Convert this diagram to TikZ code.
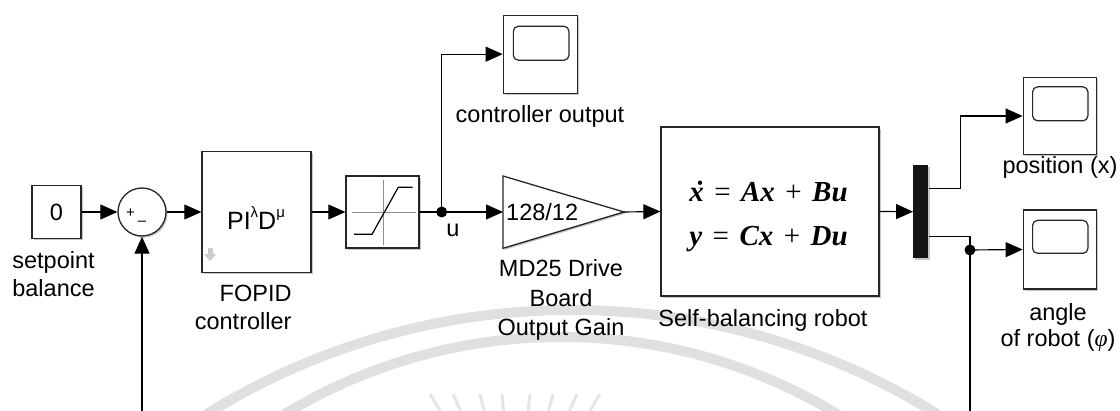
\documentclass[tikz,border=0pt]{standalone}
\usepackage{fontspec}
\setmainfont{Liberation Sans}
\newfontfamily\eqfont{Liberation Serif}
\usetikzlibrary{arrows.meta,shadows,calc}
\newcommand\bfit[1]{\textbf{\textit{#1}}}
\newcommand\xdotsym{\bfit{x}\llap{\bfit{˙}\kern0.02em}}
\newcommand\eqgap{\hspace{0.36em}}
\tikzset{
  shd/.style={drop shadow={shadow xshift=1.6pt, shadow yshift=-1.6pt, opacity=0.22, fill=black}},
  blk/.style={draw=black!85, line width=1.3pt, fill=white, inner sep=0pt, shd},
  sig/.style={line width=1.15pt, -{Triangle[length=17pt,width=15pt]}},
  wire/.style={line width=1.15pt},
  lbl/.style={font=\fontsize{23.5}{28.5}\selectfont, align=center, inner sep=0pt},
  dotnode/.style={circle, fill=black, inner sep=0pt, minimum size=11pt},
  innerscope/.style={draw=black!85, line width=1.2pt, rounded corners=5pt},
  wm/.style={line width=10pt, draw=black!12},
  ray/.style={line width=3pt, draw=black!10},
}
\begin{document}
\begin{tikzpicture}[x=1pt,y=-1pt]
\useasboundingbox (0,0) rectangle (1120,411);
% watermark
\begin{scope}
\clip (0,0) rectangle (1120,411);
\draw[wm] (572,1002) circle[radius=692];
\draw[wm] (561,870) circle[radius=533];
\foreach \xx in {430,453,480,502,530,553,577,600}{
  \draw[ray] (\xx,394) -- ({\xx-(\xx-515)*0.15},415);
}
\end{scope}

% blocks
\node[blk, lbl, minimum width=49pt, minimum height=53pt] (c0) at (56.5,212) {0};
\node[blk, circle, minimum size=48pt] (sum) at (142,212) {};
\node[inner sep=0pt, font=\fontsize{15}{15}\selectfont] (splus) at (130.5,213) {+};
\node[inner sep=0pt, font=\fontsize{15}{15}\selectfont] (sminus) at (142,223) {–};

\node[blk, minimum width=109pt, minimum height=121pt] (pid) at (256.5,212) {};
\node[inner sep=0pt, font=\fontsize{25}{25}\selectfont] (pidtxt) at (256,218)
  {PI\raisebox{0.45em}{\fontsize{15}{15}\selectfont λ}D\raisebox{0.45em}{\fontsize{15}{15}\selectfont μ}};
\fill[black!20] (207.5,248) rectangle (212.5,254);
\fill[black!20] (204,254) -- (216,254) -- (210,261) -- cycle;

\node[blk, minimum width=73pt, minimum height=72pt] (sat) at (382.5,212) {};
\draw[black!45, line width=0.8pt] (351.5,212) -- (416,212);
\draw[black!45, line width=0.8pt] (383.3,180) -- (383.3,245);
\draw[line width=1.2pt] (354,234.3) -- (372,234.3) -- (398.3,187.3) -- (412.7,187.3);

\node[dotnode] (br1) at (441.7,212) {};
\node[lbl] (ulbl) at (453,230) {u};

\node[blk, minimum width=74pt, minimum height=78pt] (sc1) at (540.3,54.2) {};
\draw[innerscope] ($(sc1.north west)+(10.7,11.7)$) rectangle ($(sc1.north east)+(-9,45.7)$);
\node[lbl] (sc1lbl) at (540,116.6) {controller output};

\coordinate (gin) at (503,212);
\coordinate (gout) at (624,212);
\filldraw[draw=black!85, fill=white, line width=1.3pt, line join=miter, shd] (503,176) -- (gout) -- (503,248.3) -- cycle;
\node[inner sep=0pt, anchor=west, font=\fontsize{23.5}{23.5}\selectfont] (gtxt) at (506,212) {128/12};
\node[lbl, font=\fontsize{23.5}{29.5}\selectfont] (glbl) at (561,300) {MD25 Drive\\Board\\Output Gain};

\node[blk, minimum width=218pt, minimum height=169pt] (plant) at (770,211.5) {};
\node[inner sep=0pt, align=center, font=\eqfont\fontsize{29}{44}\selectfont] (eq) at (768.5,216)
  {\xdotsym\eqgap=\eqgap\bfit{Ax}\eqgap+\eqgap\bfit{Bu}\\
   \bfit{y}\eqgap=\eqgap\bfit{Cx}\eqgap+\eqgap\bfit{Du}};
\node[lbl] (plbl) at (763,320) {Self-balancing robot};

\node[fill=black!92, inner sep=0pt, minimum width=15pt, minimum height=93pt, shd] (dmx) at (920.8,211.7) {};

\node[blk, minimum width=73.5pt, minimum height=77pt] (scp) at (1060,116) {};
\draw[innerscope] ($(scp.north west)+(10,10)$) rectangle ($(scp.north east)+(-9.5,44)$);
\node[lbl] (scplbl) at (1060,167.2) {position (x)};

\node[blk, minimum width=73.5pt, minimum height=79pt] (sca) at (1060,249.5) {};
\draw[innerscope] ($(sca.north west)+(10,11)$) rectangle ($(sca.north east)+(-9.5,44)$);
\node[lbl, font=\fontsize{23.5}{26}\selectfont] (scalbl) at (1058,327)
  {angle\\of robot ({\eqfont\itshape φ})};

\node[lbl] (splbl) at (53.5,274) {setpoint\\balance};
\node[lbl, align=right, anchor=east] (pidlbl) at (291.7,307.5) {FOPID\\controller};

% connectors
\draw[sig] (c0.east) -- (sum.west);
\draw[sig] (sum.east) -- (pid.west);
\draw[sig] (pid.east) -- (sat.west);
\draw[wire] (sat.east) -- (br1.center);
\draw[sig] (br1.center) -- (gin);
\draw[sig] (br1.center) |- (sc1.west);
\draw[sig] (gout) -- (plant.west);
\draw[sig] (plant.east) -- (dmx.west);
\coordinate (d1) at ($(dmx.east)+(0,-23.4)$);
\coordinate (d2) at ($(dmx.east)+(0,25)$);
\coordinate (k1) at (960.7,188.3);
\draw[sig] (d1) -- (k1) |- (scp.west);
\node[dotnode] (br2) at (970,250) {};
\draw[wire] (d2) -| (br2.center);
\draw[sig] (br2.center) -- (sca.west);
\coordinate (fbr) at (970,420);
\coordinate (fbl) at (142,420);
\draw[wire] (br2.center) -- (fbr);
\draw[sig] (fbl) -- (sum.south);
\end{tikzpicture}
\end{document}
